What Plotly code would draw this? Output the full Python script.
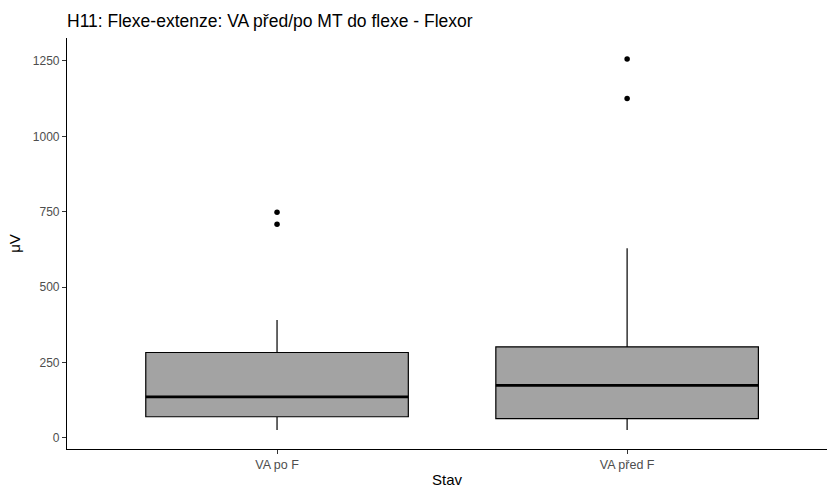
import plotly.graph_objects as go

categories = ["VA po F", "VA před F"]
q1 = [70, 64]
median = [136, 174]
q3 = [283, 302]
lower_whisker = [26, 26]
upper_whisker = [391, 629]
outliers_po = [708, 748]
outliers_pred = [1125, 1256]
y_ticks = [0, 250, 500, 750, 1000, 1250]

font = "Liberation Sans, Arial, sans-serif"

fig = go.Figure()
fig.add_trace(go.Box(
    x=categories, q1=q1, median=median, q3=q3,
    lowerfence=lower_whisker, upperfence=upper_whisker,
    fillcolor="#A3A3A3", line=dict(color="#000000", width=1.2),
    width=0.75, whiskerwidth=0, boxpoints=False, showlegend=False,
    hoverinfo="skip",
))
# thicker median line (ggplot fatten)
fig.add_trace(go.Box(
    x=categories, q1=median, median=median, q3=median,
    lowerfence=median, upperfence=median,
    fillcolor="rgba(0,0,0,0)", line=dict(color="#000000", width=2.6),
    width=0.75, whiskerwidth=0, boxpoints=False, showlegend=False,
    hoverinfo="skip",
))
fig.add_trace(go.Scatter(
    x=[categories[0]] * len(outliers_po) + [categories[1]] * len(outliers_pred),
    y=outliers_po + outliers_pred,
    mode="markers", marker=dict(color="#000000", size=5.5),
    showlegend=False, hoverinfo="skip",
))

fig.update_layout(
    width=827, height=488,
    margin=dict(l=67, r=0, t=38, b=39),
    paper_bgcolor="white", plot_bgcolor="white",
    boxmode="overlay",
    title=dict(text="H11: Flexe-extenze: VA před/po MT do flexe - Flexor",
               x=67 / 827, xanchor="left", y=1 - 21 / 488, yanchor="middle",
               font=dict(family=font, size=17.5, color="#000000")),
    xaxis=dict(
        type="category", categoryorder="array", categoryarray=categories,
        range=[-0.6, 1.571],
        showline=True, linecolor="#000000", linewidth=1.2, mirror=False,
        ticks="outside", ticklen=4, tickcolor="#333333", tickwidth=1,
        showgrid=False, zeroline=False,
        tickfont=dict(family=font, size=12.5, color="#4D4D4D"),
        title=dict(text="Stav", font=dict(family=font, size=15, color="#000000"), standoff=4),
    ),
    yaxis=dict(
        range=[-37, 1326],
        tickvals=y_ticks, ticktext=[str(v) for v in y_ticks],
        showline=True, linecolor="#000000", linewidth=1.2,
        ticks="outside", ticklen=4, tickcolor="#333333", tickwidth=1,
        showgrid=False, zeroline=False,
        tickfont=dict(family=font, size=12, color="#4D4D4D"),
        title=dict(text="μV", font=dict(family=font, size=15, color="#000000"), standoff=8),
    ),
)

fig.write_html("out.html")
